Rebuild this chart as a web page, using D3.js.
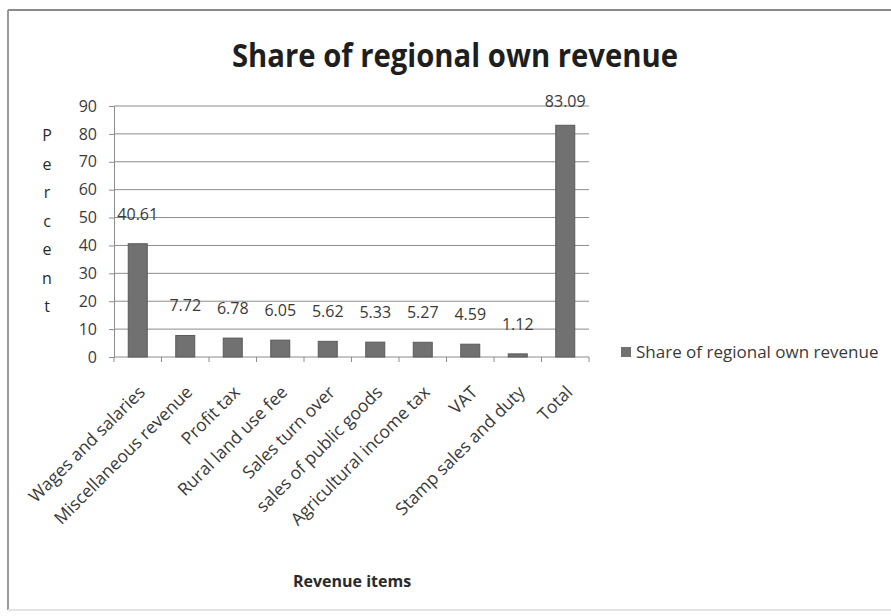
<!DOCTYPE html>
<html>
<head>
<meta charset="utf-8">
<script src="https://cdn.jsdelivr.net/npm/d3@7/dist/d3.min.js"></script>
<style>
  html, body { margin: 0; padding: 0; background: #fff; }
  svg { display: block; }
  text { font-family: "Open Sans", "DejaVu Sans", sans-serif; }
</style>
</head>
<body>
<svg id="chart" width="891" height="616"></svg>
<script>
// Revenue items and their share of regional own revenue (percent)
const categories = [
  "Wages and salaries", "Miscellaneous revenue", "Profit tax", "Rural land use fee",
  "Sales turn over", "sales of public goods", "Agricultural income tax", "VAT",
  "Stamp sales and duty", "Total"
];
const shares = [40.61, 7.72, 6.78, 6.05, 5.62, 5.33, 5.27, 4.59, 1.12, 83.09];
const yTicks = [0, 10, 20, 30, 40, 50, 60, 70, 80, 90];
const seriesName = "Share of regional own revenue";
const chartTitle = "Share of regional own revenue";
const xTitle = "Revenue items";
const yTitle = "Percent";

const svg = d3.select("#chart");

// frame around the chart
svg.append("line").attr("x1", 8).attr("x2", 891).attr("y1", 10).attr("y2", 10)
  .attr("stroke", "#8a8a8a").attr("stroke-width", 2);
svg.append("line").attr("x1", 8).attr("x2", 8).attr("y1", 10).attr("y2", 610)
  .attr("stroke", "#9a9a9a").attr("stroke-width", 2);
svg.append("line").attr("x1", 8).attr("x2", 891).attr("y1", 610).attr("y2", 610)
  .attr("stroke", "#e4e4e4").attr("stroke-width", 2);

const plot = { left: 114, right: 589, top: 106, bottom: 357 };

const x = d3.scaleBand().domain(categories).range([plot.left, plot.right]).paddingInner(0.6).paddingOuter(0.3);
const xEdges = d3.scaleLinear().domain([0, categories.length]).range([plot.left, plot.right]);
const y = d3.scaleLinear().domain([0, 90]).range([plot.bottom, plot.top]);

// horizontal gridlines
svg.append("g").selectAll("line").data(yTicks.filter(t => t > 0)).join("line")
  .attr("x1", plot.left).attr("x2", plot.right)
  .attr("y1", d => y(d)).attr("y2", d => y(d))
  .attr("stroke", "#8c8c8c").attr("stroke-width", 1);

// y axis
const yAxis = svg.append("g").attr("transform", `translate(${plot.left},0)`)
  .call(d3.axisLeft(y).tickValues(yTicks).tickSize(5).tickPadding(12));
yAxis.select(".domain").attr("stroke", "#8c8c8c");
yAxis.selectAll(".tick line").attr("stroke", "#8c8c8c");
yAxis.selectAll(".tick text").attr("font-size", 16).attr("fill", "#3a3a3a");

// x axis baseline and category separators
svg.append("line").attr("x1", plot.left).attr("x2", plot.right)
  .attr("y1", plot.bottom).attr("y2", plot.bottom).attr("stroke", "#8c8c8c");
svg.append("g").selectAll("line").data(d3.range(categories.length + 1)).join("line")
  .attr("x1", d => xEdges(d)).attr("x2", d => xEdges(d))
  .attr("y1", plot.bottom).attr("y2", plot.bottom + 5).attr("stroke", "#8c8c8c");

// bars
svg.append("g").selectAll("rect").data(categories).join("rect")
  .attr("x", d => x(d)).attr("width", x.bandwidth())
  .attr("y", (d, i) => y(shares[i])).attr("height", (d, i) => y(0) - y(shares[i]))
  .attr("fill", "#717171").attr("stroke", "#5a5a5a").attr("stroke-width", 1);

// value labels, kept inside the chart area above the plot
svg.append("g").selectAll("text").data(categories).join("text")
  .attr("x", d => x(d) + x.bandwidth() / 2)
  .attr("y", (d, i) => Math.max(y(shares[i]) - 24, plot.top + 1))
  .attr("text-anchor", "middle")
  .attr("font-size", 16).attr("fill", "#3a3a3a")
  .text((d, i) => shares[i].toFixed(2));

// rotated category labels
svg.append("g").selectAll("text").data(categories).join("text")
  .attr("transform", d => `translate(${x(d) + x.bandwidth() / 2 + 5},${plot.bottom + 33}) rotate(-45)`)
  .attr("text-anchor", "end")
  .attr("dominant-baseline", "middle")
  .attr("font-size", 17.5).attr("fill", "#3a3a3a")
  .text(d => d);

// title
svg.append("text").attr("x", 455).attr("y", 67).attr("text-anchor", "middle")
  .attr("font-size", 33).attr("font-weight", "bold").attr("fill", "#1e1e1e")
  .attr("textLength", 446).attr("lengthAdjust", "spacingAndGlyphs")
  .text(chartTitle);

// x axis title
svg.append("text").attr("x", 352).attr("y", 587).attr("text-anchor", "middle")
  .attr("font-size", 16).attr("font-weight", "bold").attr("fill", "#2a2a2a")
  .text(xTitle);

// y axis title, one letter per line
svg.append("g").selectAll("text").data(yTitle.split("")).join("text")
  .attr("x", 47).attr("y", (d, i) => 141 + i * 28.5)
  .attr("text-anchor", "middle").attr("font-size", 16).attr("fill", "#2a2a2a")
  .text((d, i) => i === 0 ? "P" : d.toLowerCase());

// legend
svg.append("rect").attr("x", 621).attr("y", 347).attr("width", 10).attr("height", 10)
  .attr("fill", "#717171");
svg.append("text").attr("x", 636).attr("y", 358).attr("font-size", 17).attr("fill", "#3a3a3a")
  .text(seriesName);
</script>
</body>
</html>
